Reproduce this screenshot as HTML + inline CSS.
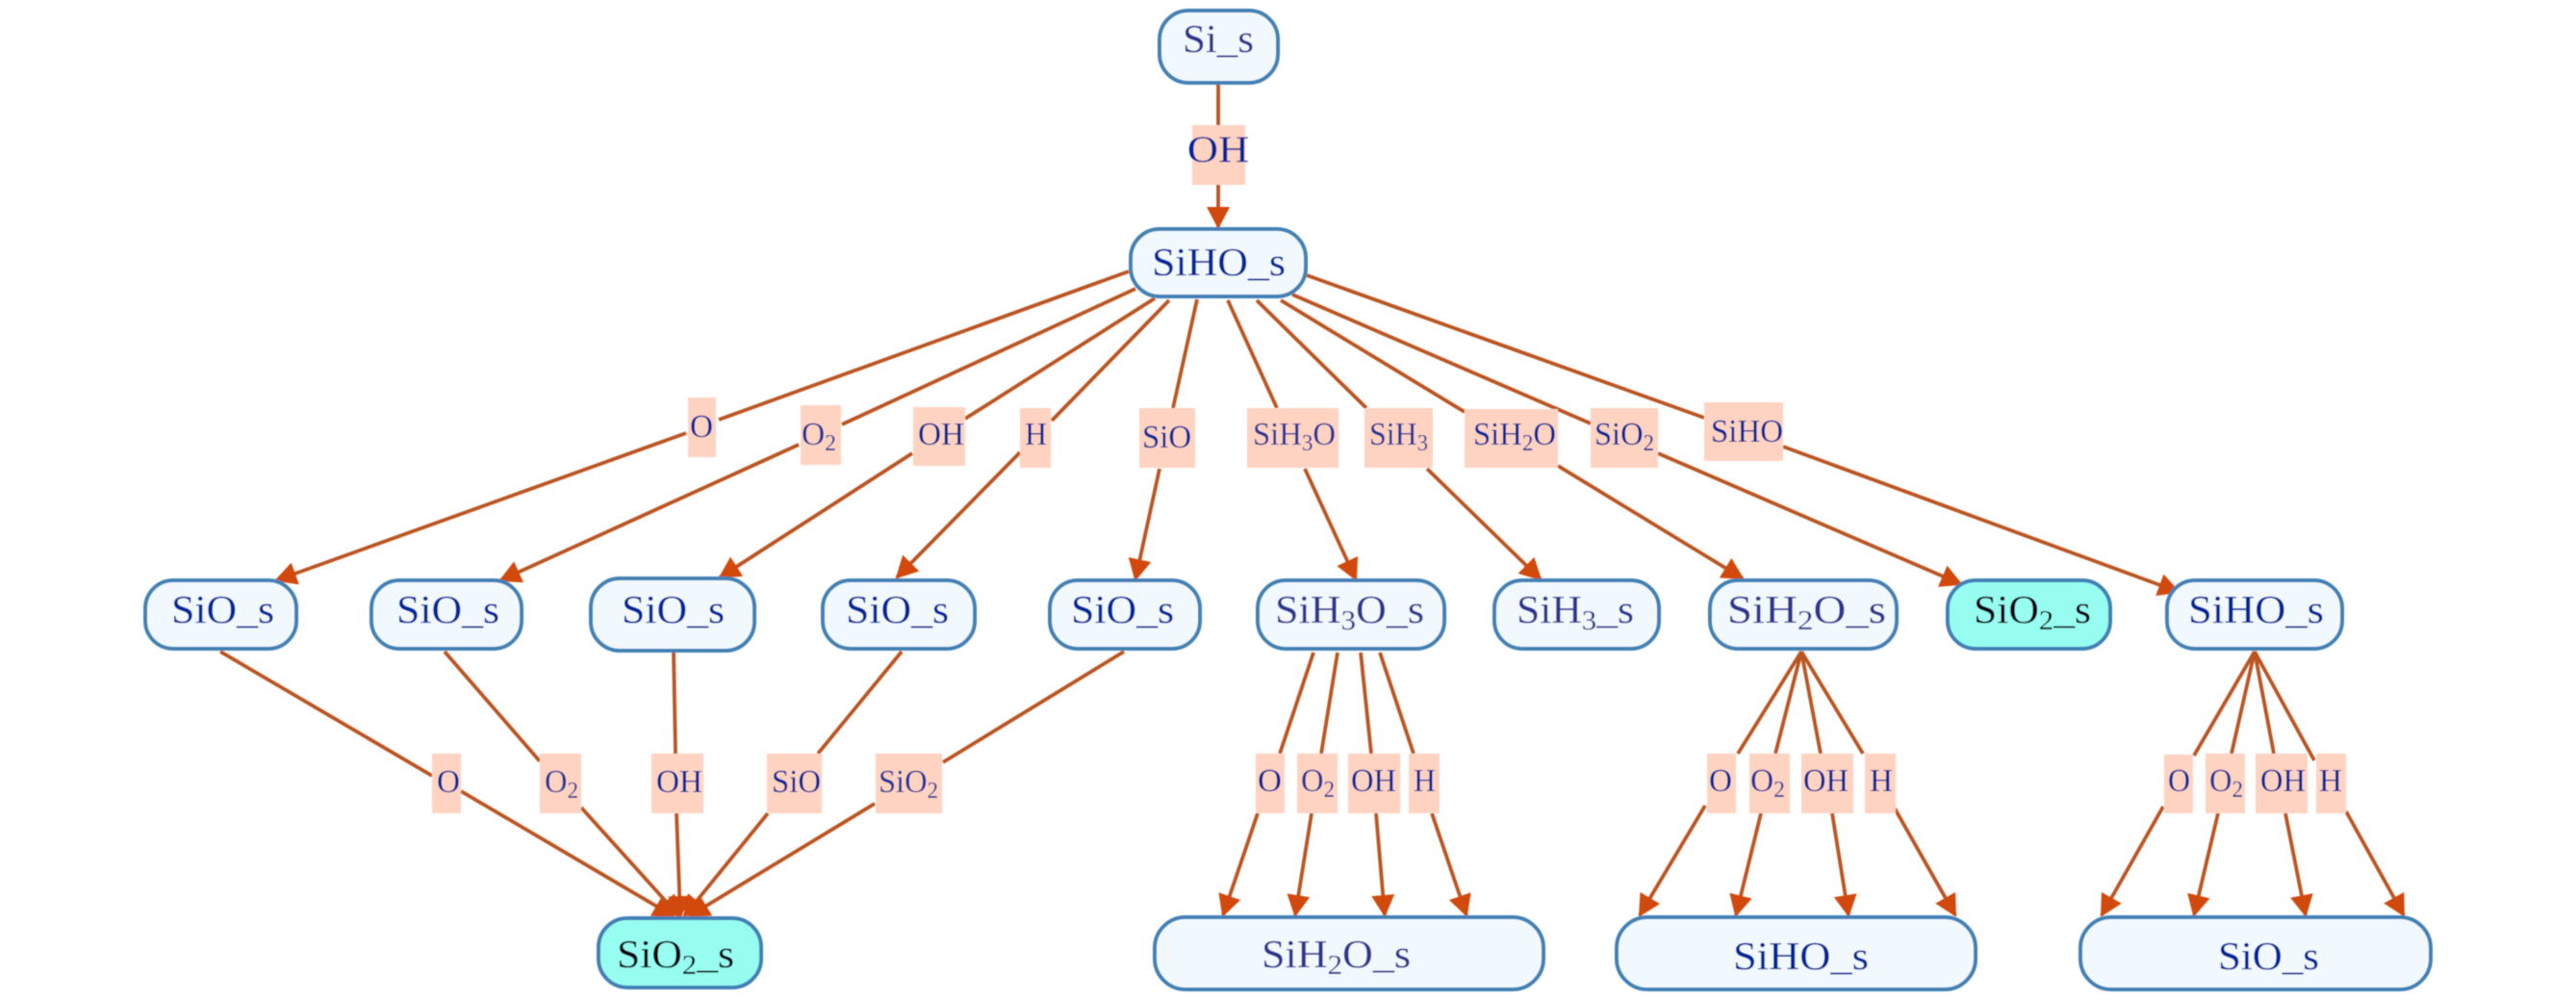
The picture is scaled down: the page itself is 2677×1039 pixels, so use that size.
<!DOCTYPE html>
<html lang="en">
<head>
<meta charset="utf-8">
<title>SiHO reaction network</title>
<style>
html,body{margin:0;padding:0;background:#fff;}
svg{display:block;}
text{font-family:"Liberation Serif",serif;}
.n{fill:#f1f9fe;stroke:#4381b5;stroke-width:4;}
.c{fill:#98fdf1;stroke:#4381b5;stroke-width:4;}
.l{fill:#ffd3c1;}
.e{fill:none;stroke:#bc5424;stroke-width:3.8;marker-end:url(#a);}
.t{font-size:41px;fill:#05259a;}
.p{font-size:41px;fill:#2f3490;}
.k{font-size:41px;fill:#000008;}
.s{font-size:34px;fill:#05259a;}
.q{font-size:34px;fill:#223399;}
</style>
</head>
<body>
<svg xmlns="http://www.w3.org/2000/svg" width="2677" height="1039" viewBox="0 0 2677 1039">
<defs>
<marker id="a" markerUnits="userSpaceOnUse" markerWidth="32" markerHeight="32" refX="21" refY="13" orient="auto">
<polygon points="0,1 23,13 0,25" fill="#d24a0a"/>
</marker>
<filter id="b" filterUnits="userSpaceOnUse" x="0" y="0" width="2677" height="1039"><feGaussianBlur stdDeviation="0.4"/></filter>
</defs>
<rect width="2677" height="1039" fill="#fff"/>
<g filter="url(#b)">

<!-- edges -->
<path class="e" d="M1266 86L1266 130M1266 192L1266 236"/>
<path class="e" d="M1173 282L747 436M713 450L287 603"/>
<path class="e" d="M1180 300L875 441M830 462L520 603"/>
<path class="e" d="M1200 310L1003 435M948 471L748 600"/>
<path class="e" d="M1215 312L1093 437M1060 470L932 600"/>
<path class="e" d="M1244 311L1219 424M1205 487L1180 602"/>
<path class="e" d="M1276 312L1327 424M1356 487L1409 602"/>
<path class="e" d="M1306 312L1420 424M1483 487L1601 602"/>
<path class="e" d="M1331 312L1522 428M1619 484L1811 601"/>
<path class="e" d="M1343 306L1653 440M1723 471L2038 607"/>
<path class="e" d="M1358 286L1771 434M1853 464L2264 615"/>

<path class="e" d="M229 677L449 806M479 822L700 952"/>
<path class="e" d="M462 677L561 791M604 839L706 952"/>
<path class="e" d="M700 677L702 783M703 845L707 952"/>
<path class="e" d="M937 677L850 783M798 845L711 952"/>
<path class="e" d="M1168 677L980 792M909 835L716 952"/>

<path class="e" d="M1365 678L1330 783M1307 845L1271 951"/>
<path class="e" d="M1390 678L1373 783M1363 845L1346 951"/>
<path class="e" d="M1414 678L1425 783M1430 845L1439 951"/>
<path class="e" d="M1434 678L1469 783M1488 845L1524 951"/>

<path class="e" d="M1872 677L1806 783M1772 837L1704 951"/>
<path class="e" d="M1872 677L1845 783M1830 845L1804 951"/>
<path class="e" d="M1872 677L1892 783M1904 845L1921 951"/>
<path class="e" d="M1872 677L1936 783M1969 840L2032 951"/>

<path class="e" d="M2343 677L2280 785M2248 838L2184 951"/>
<path class="e" d="M2343 677L2319 783M2305 845L2280 951"/>
<path class="e" d="M2343 677L2363 783M2375 845L2396 951"/>
<path class="e" d="M2343 677L2405 790M2438 843L2498 951"/>

<!-- edge labels -->
<rect class="l" x="1239" y="130" width="55" height="62"/>
<text x="1234" y="168" textLength="64" lengthAdjust="spacingAndGlyphs" style="font-size:39px;fill:#05259a">OH</text>

<rect class="l" x="715" y="413" width="29" height="62"/>
<rect class="l" x="832" y="421" width="42" height="62"/>
<rect class="l" x="949" y="423" width="54" height="61"/>
<rect class="l" x="1060" y="424" width="32" height="62"/>
<rect class="l" x="1184" y="424" width="58" height="62"/>
<rect class="l" x="1296" y="424" width="95" height="62"/>
<rect class="l" x="1418" y="424" width="71" height="62"/>
<rect class="l" x="1522" y="425" width="97" height="61"/>
<rect class="l" x="1653" y="424" width="70" height="62"/>
<rect class="l" x="1771" y="418" width="82" height="61"/>

<text class="s" x="717" y="454" textLength="24" lengthAdjust="spacingAndGlyphs">O</text>
<text class="q" x="833" y="462" textLength="36" lengthAdjust="spacingAndGlyphs">O<tspan font-size="24" dy="6">2</tspan></text>
<text class="s" x="954" y="462" textLength="48" lengthAdjust="spacingAndGlyphs">OH</text>
<text class="s" x="1065" y="462" textLength="23" lengthAdjust="spacingAndGlyphs">H</text>
<text class="s" x="1187" y="465" textLength="51" lengthAdjust="spacingAndGlyphs">SiO</text>
<text class="q" x="1302" y="462" textLength="86" lengthAdjust="spacingAndGlyphs">SiH<tspan font-size="24" dy="6">3</tspan><tspan dy="-6">O</tspan></text>
<text class="q" x="1423" y="462" textLength="61" lengthAdjust="spacingAndGlyphs">SiH<tspan font-size="24" dy="6">3</tspan></text>
<text class="s" x="1531" y="462" textLength="86" lengthAdjust="spacingAndGlyphs">SiH<tspan font-size="24" dy="6">2</tspan><tspan dy="-6">O</tspan></text>
<text class="s" x="1657" y="462" textLength="62" lengthAdjust="spacingAndGlyphs">SiO<tspan font-size="24" dy="6">2</tspan></text>
<text class="s" x="1778" y="459" textLength="75" lengthAdjust="spacingAndGlyphs">SiHO</text>

<rect class="l" x="449" y="783" width="30" height="62"/>
<rect class="l" x="561" y="783" width="43" height="62"/>
<rect class="l" x="677" y="783" width="54" height="62"/>
<rect class="l" x="797" y="783" width="57" height="62"/>
<rect class="l" x="910" y="783" width="69" height="62"/>
<text class="s" x="454" y="823" textLength="24" lengthAdjust="spacingAndGlyphs">O</text>
<text class="q" x="566" y="823" textLength="35" lengthAdjust="spacingAndGlyphs">O<tspan font-size="24" dy="6">2</tspan></text>
<text class="s" x="682" y="823" textLength="48" lengthAdjust="spacingAndGlyphs">OH</text>
<text class="s" x="802" y="823" textLength="51" lengthAdjust="spacingAndGlyphs">SiO</text>
<text class="q" x="913" y="823" textLength="62" lengthAdjust="spacingAndGlyphs">SiO<tspan font-size="24" dy="6">2</tspan></text>

<rect class="l" x="1305" y="783" width="30" height="62"/>
<rect class="l" x="1348" y="783" width="42" height="62"/>
<rect class="l" x="1401" y="783" width="54" height="62"/>
<rect class="l" x="1464" y="783" width="32" height="62"/>
<text class="s" x="1307" y="822" textLength="25" lengthAdjust="spacingAndGlyphs">O</text>
<text class="q" x="1352" y="822" textLength="35" lengthAdjust="spacingAndGlyphs">O<tspan font-size="24" dy="6">2</tspan></text>
<text class="s" x="1404" y="822" textLength="47" lengthAdjust="spacingAndGlyphs">OH</text>
<text class="s" x="1469" y="822" textLength="23" lengthAdjust="spacingAndGlyphs">H</text>

<rect class="l" x="1774" y="783" width="30" height="62"/>
<rect class="l" x="1818" y="783" width="42" height="62"/>
<rect class="l" x="1872" y="783" width="54" height="62"/>
<rect class="l" x="1938" y="783" width="32" height="62"/>
<text class="s" x="1776" y="822" textLength="24" lengthAdjust="spacingAndGlyphs">O</text>
<text class="q" x="1819" y="822" textLength="36" lengthAdjust="spacingAndGlyphs">O<tspan font-size="24" dy="6">2</tspan></text>
<text class="s" x="1874" y="822" textLength="47" lengthAdjust="spacingAndGlyphs">OH</text>
<text class="s" x="1943" y="822" textLength="24" lengthAdjust="spacingAndGlyphs">H</text>

<rect class="l" x="2249" y="784" width="30" height="61"/>
<rect class="l" x="2292" y="783" width="41" height="62"/>
<rect class="l" x="2344" y="783" width="54" height="62"/>
<rect class="l" x="2407" y="783" width="31" height="62"/>
<text class="s" x="2253" y="822" textLength="23" lengthAdjust="spacingAndGlyphs">O</text>
<text class="q" x="2296" y="822" textLength="35" lengthAdjust="spacingAndGlyphs">O<tspan font-size="24" dy="6">2</tspan></text>
<text class="s" x="2349" y="822" textLength="47" lengthAdjust="spacingAndGlyphs">OH</text>
<text class="s" x="2410" y="822" textLength="24" lengthAdjust="spacingAndGlyphs">H</text>

<!-- nodes -->
<rect class="n" x="1205" y="11" width="123" height="75" rx="30"/>
<text class="p" x="1229" y="54" textLength="74" lengthAdjust="spacingAndGlyphs">Si_s</text>
<rect class="n" x="1175" y="238" width="182" height="70" rx="30"/>
<text class="t" x="1197" y="286" textLength="139" lengthAdjust="spacingAndGlyphs">SiHO_s</text>

<rect class="n" x="151" y="603" width="157" height="71" rx="29"/>
<text class="t" x="178" y="647" textLength="107" lengthAdjust="spacingAndGlyphs">SiO_s</text>
<rect class="n" x="386" y="603" width="156" height="71" rx="29"/>
<text class="t" x="412" y="647" textLength="107" lengthAdjust="spacingAndGlyphs">SiO_s</text>
<rect class="n" x="614" y="601" width="170" height="75" rx="30"/>
<text class="t" x="646" y="647" textLength="107" lengthAdjust="spacingAndGlyphs">SiO_s</text>
<rect class="n" x="855" y="603" width="158" height="71" rx="29"/>
<text class="t" x="879" y="647" textLength="107" lengthAdjust="spacingAndGlyphs">SiO_s</text>
<rect class="n" x="1091" y="603" width="156" height="71" rx="29"/>
<text class="t" x="1113" y="647" textLength="107" lengthAdjust="spacingAndGlyphs">SiO_s</text>
<rect class="n" x="1307" y="603" width="194" height="71" rx="29"/>
<text class="p" x="1325" y="647" textLength="155" lengthAdjust="spacingAndGlyphs">SiH<tspan font-size="29" dy="7">3</tspan><tspan dy="-7">O_s</tspan></text>
<rect class="n" x="1553" y="603" width="171" height="71" rx="29"/>
<text class="p" x="1576" y="647" textLength="122" lengthAdjust="spacingAndGlyphs">SiH<tspan font-size="29" dy="7">3</tspan><tspan dy="-7">_s</tspan></text>
<rect class="n" x="1777" y="603" width="194" height="71" rx="29"/>
<text class="p" x="1795" y="647" textLength="165" lengthAdjust="spacingAndGlyphs">SiH<tspan font-size="29" dy="7">2</tspan><tspan dy="-7">O_s</tspan></text>
<rect class="c" x="2024" y="603" width="169" height="71" rx="29"/>
<text class="k" x="2051" y="647" textLength="122" lengthAdjust="spacingAndGlyphs">SiO<tspan font-size="29" dy="7">2</tspan><tspan dy="-7">_s</tspan></text>
<rect class="n" x="2252" y="603" width="182" height="71" rx="29"/>
<text class="t" x="2274" y="647" textLength="141" lengthAdjust="spacingAndGlyphs">SiHO_s</text>

<rect class="c" x="622" y="954" width="169" height="72" rx="30"/>
<text class="k" x="641" y="1005" textLength="122" lengthAdjust="spacingAndGlyphs">SiO<tspan font-size="29" dy="7">2</tspan><tspan dy="-7">_s</tspan></text>
<rect class="n" x="1200" y="953" width="404" height="75" rx="32"/>
<text class="p" x="1311" y="1005" textLength="155" lengthAdjust="spacingAndGlyphs">SiH<tspan font-size="29" dy="7">2</tspan><tspan dy="-7">O_s</tspan></text>
<rect class="n" x="1680" y="953" width="373" height="75" rx="32"/>
<text class="t" x="1801" y="1007" textLength="141" lengthAdjust="spacingAndGlyphs">SiHO_s</text>
<rect class="n" x="2162" y="953" width="364" height="75" rx="32"/>
<text class="t" x="2305" y="1007" textLength="105" lengthAdjust="spacingAndGlyphs">SiO_s</text>
</g>
</svg>
</body>
</html>
